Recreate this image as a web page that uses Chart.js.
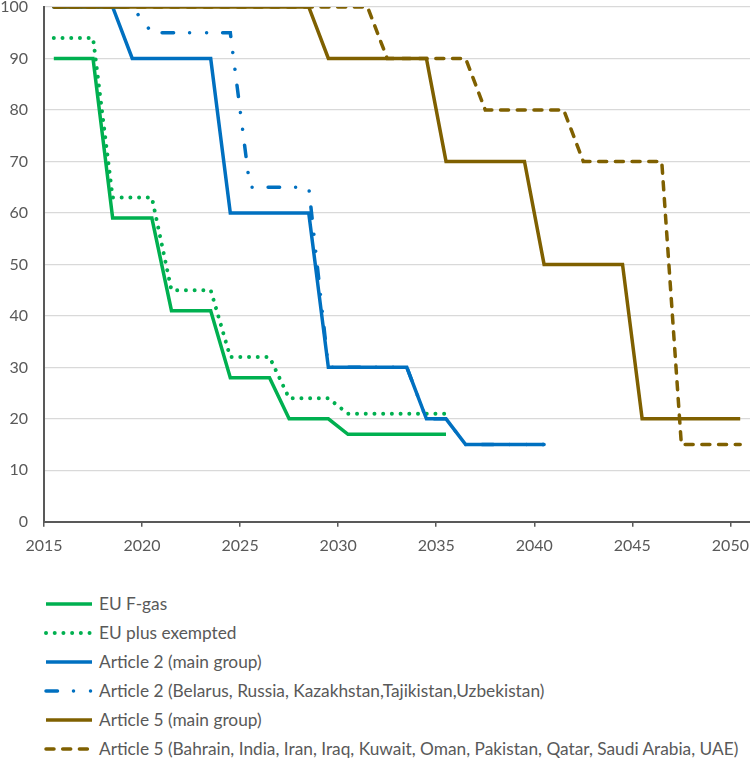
<!DOCTYPE html>
<html>
<head>
<meta charset="utf-8">
<script src="https://cdn.jsdelivr.net/npm/chart.js@4.4.1/dist/chart.umd.min.js"></script>
<style>
  body { margin: 0; background: #fff; font-family: Lato, sans-serif; }
  #wrap { position: relative; width: 750px; height: 758px; overflow: hidden; }
  #legend { position: absolute; left: 44px; top: 589px; list-style: none; margin: 0; padding: 0; }
  #legend li { height: 29px; display: flex; align-items: center; color: #595959; font-size: 17.3px; white-space: nowrap; }
  #legend svg { width: 50px; height: 8px; margin-right: 5px; flex: none; }
</style>
</head>
<body>
<div id="wrap">
  <canvas id="phaseChart" width="750" height="564"></canvas>
  <ul id="legend"></ul>
</div>
<script>
// years of the schedule (each year is drawn at the middle of its slot)
const years = [2015, 2016, 2017, 2018, 2019, 2020, 2021, 2022, 2023, 2024,
               2025, 2026, 2027, 2028, 2029, 2030, 2031, 2032, 2033, 2034,
               2035, 2036, 2037, 2038, 2039, 2040, 2041, 2042, 2043, 2044,
               2045, 2046, 2047, 2048, 2049, 2050];

const seriesNames = [
  'EU F-gas',
  'EU plus exempted',
  'Article 2 (main group)',
  'Article 2 (Belarus, Russia, Kazakhstan,Tajikistan,Uzbekistan)',
  'Article 5 (main group)',
  'Article 5 (Bahrain, India, Iran, Iraq, Kuwait, Oman, Pakistan, Qatar, Saudi Arabia, UAE)'
];

// % of baseline
const euFgas = [90, 90, 90, 59, 59, 59, 41, 41, 41, 28,
                28, 28, 20, 20, 20, 17, 17, 17, 17, 17,
                17, null, null, null, null, null, null, null, null, null,
                null, null, null, null, null, null];
const euPlusExempted = [94, 94, 94, 63, 63, 63, 45, 45, 45, 32,
                        32, 32, 24, 24, 24, 21, 21, 21, 21, 21,
                        21, null, null, null, null, null, null, null, null, null,
                        null, null, null, null, null, null];
const art2Main = [100, 100, 100, 100, 90, 90, 90, 90, 90, 60,
                  60, 60, 60, 60, 30, 30, 30, 30, 30, 20,
                  20, 15, 15, 15, 15, 15, null, null, null, null,
                  null, null, null, null, null, null];
const art2Group = [100, 100, 100, 100, 100, 95, 95, 95, 95, 95,
                   65, 65, 65, 65, 30, 30, 30, 30, 30, 20,
                   20, 15, 15, 15, 15, 15, null, null, null, null,
                   null, null, null, null, null, null];
const art5Main = [100, 100, 100, 100, 100, 100, 100, 100, 100, 100,
                  100, 100, 100, 100, 90, 90, 90, 90, 90, 90,
                  70, 70, 70, 70, 70, 50, 50, 50, 50, 50,
                  20, 20, 20, 20, 20, 20];
const art5Group = [100, 100, 100, 100, 100, 100, 100, 100, 100, 100,
                   100, 100, 100, 100, 100, 100, 100, 90, 90, 90,
                   90, 90, 80, 80, 80, 80, 80, 70, 70, 70,
                   70, 70, 15, 15, 15, 15];

const xTicks = [2015, 2020, 2025, 2030, 2035, 2040, 2045, 2050];

const green = '#00b050', blue = '#0070c0', brown = '#7f6000';
const styles = [
  { color: green, dash: [] },
  { color: green, dash: [0.01, 8.7] },
  { color: blue, dash: [] },
  { color: blue, dash: [11.5, 16, 0.01, 17, 0.01, 16] },
  { color: brown, dash: [] },
  { color: brown, dash: [8, 8.7] }
];
const allValues = [euFgas, euPlusExempted, art2Main, art2Group, art5Main, art5Group];

const datasets = allValues.map((vals, i) => ({
  label: seriesNames[i],
  data: years.map((yr, k) => ({ x: yr + 0.5, y: vals[k] })),
  borderColor: styles[i].color,
  borderDash: styles[i].dash,
  borderCapStyle: styles[i].dash.length ? 'round' : 'butt',
  borderWidth: styles[i].dash.length === 2 && styles[i].dash[0] < 1 ? 4 : 3.5,
  pointRadius: 0,
  tension: 0,
  fill: false,
  order: allValues.length - i   // later series on top, like the original
}));

const tickFont = { family: 'Lato', size: 16 };

const chart = new Chart(document.getElementById('phaseChart').getContext('2d'), {
  type: 'line',
  data: { datasets: datasets },
  options: {
    responsive: false,
    animation: false,
    layout: { padding: { top: 7, right: 0, bottom: 0, left: 0 } },
    plugins: { legend: { display: false }, tooltip: { enabled: false } },
    scales: {
      x: {
        type: 'linear',
        min: 2015,
        max: 2051,
        afterBuildTicks: s => { s.ticks = xTicks.map(v => ({ value: v })); },
        ticks: { color: '#595959', font: tickFont, padding: 9, callback: v => String(v) },
        grid: { drawOnChartArea: false, drawTicks: true, tickLength: 5, color: '#595959', lineWidth: 1.5 },
        border: { color: '#595959', width: 2 },
        afterFit: s => { s.paddingLeft = 0; s.paddingRight = 0; }
      },
      y: {
        min: 0,
        max: 100,
        ticks: { stepSize: 10, color: '#595959', font: tickFont, padding: 16 },
        grid: { color: '#d9d9d9', lineWidth: 1.3, drawTicks: false },
        border: { color: '#595959', width: 2 },
        afterFit: s => { s.width = 44; s.paddingTop = 0; s.paddingBottom = 0; }
      }
    }
  }
});

// legend, one entry per row
const legendEl = document.getElementById('legend');
chart.data.datasets.forEach(ds => {
  const li = document.createElement('li');
  const dash = ds.borderDash.length ? ds.borderDash.join(' ') : 'none';
  li.innerHTML =
    '<svg viewBox="0 0 50 8"><line x1="2" y1="4" x2="48" y2="4" stroke="' + ds.borderColor +
    '" stroke-width="' + ds.borderWidth + '" stroke-linecap="' + ds.borderCapStyle +
    '" stroke-dasharray="' + dash + '"/></svg>';
  const span = document.createElement('span');
  span.textContent = ds.label;
  li.appendChild(span);
  legendEl.appendChild(li);
});
</script>
</body>
</html>
